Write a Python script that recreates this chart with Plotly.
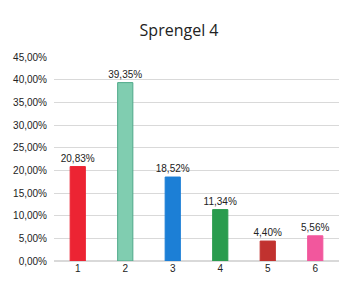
import plotly.graph_objects as go

categories = ["1", "2", "3", "4", "5", "6"]
values = [20.83, 39.35, 18.52, 11.34, 4.40, 5.56]
labels = ["20,83%", "39,35%", "18,52%", "11,34%", "4,40%", "5,56%"]
colors = ["#EC2433", "#80CDB0", "#1C7FD6", "#2A9C4E", "#C1322F", "#F2579D"]
line_colors = ["#EC2433", "#4FA98A", "#1C7FD6", "#2A9C4E", "#C1322F", "#F2579D"]
yticks = [0, 5, 10, 15, 20, 25, 30, 35, 40, 45]
ytick_text = ["0,00%", "5,00%", "10,00%", "15,00%", "20,00%", "25,00%",
              "30,00%", "35,00%", "40,00%", "45,00%"]

fig = go.Figure(go.Bar(
    x=categories, y=values,
    marker=dict(color=colors, line=dict(color=line_colors, width=1)),
    width=0.32,
    text=labels, textposition="outside", cliponaxis=False, constraintext="none",
    textfont=dict(size=10, color="#222222", family="Liberation Sans, Arial"),
))

fig.update_layout(
    width=347, height=284,
    margin=dict(l=54, r=8, t=57, b=23, autoexpand=False),
    paper_bgcolor="white", plot_bgcolor="white",
    title=dict(text="Sprengel 4", x=0.516, xanchor="center", y=0.893, yanchor="middle",
               font=dict(size=16, color="#222222", family="Open Sans, Liberation Sans")),
    showlegend=False,
    font=dict(family="Liberation Sans, Arial", size=10, color="#222222"),
)
fig.update_yaxes(range=[0, 45], tickvals=yticks, ticktext=ytick_text, automargin=False,
                 gridcolor="#D9D9D9", gridwidth=1, zeroline=True, zerolinecolor="#D9D9D9",
                 showline=False, ticks="", ticklabelstandoff=6,
                 tickfont=dict(size=10, color="#222222"))
fig.update_xaxes(showline=False, ticks="", automargin=False,
                 tickfont=dict(size=10, color="#222222"))

fig.write_html("out.html", config={"displayModeBar": False},
               post_script="document.body.style.margin='0';document.body.style.overflow='hidden';")
